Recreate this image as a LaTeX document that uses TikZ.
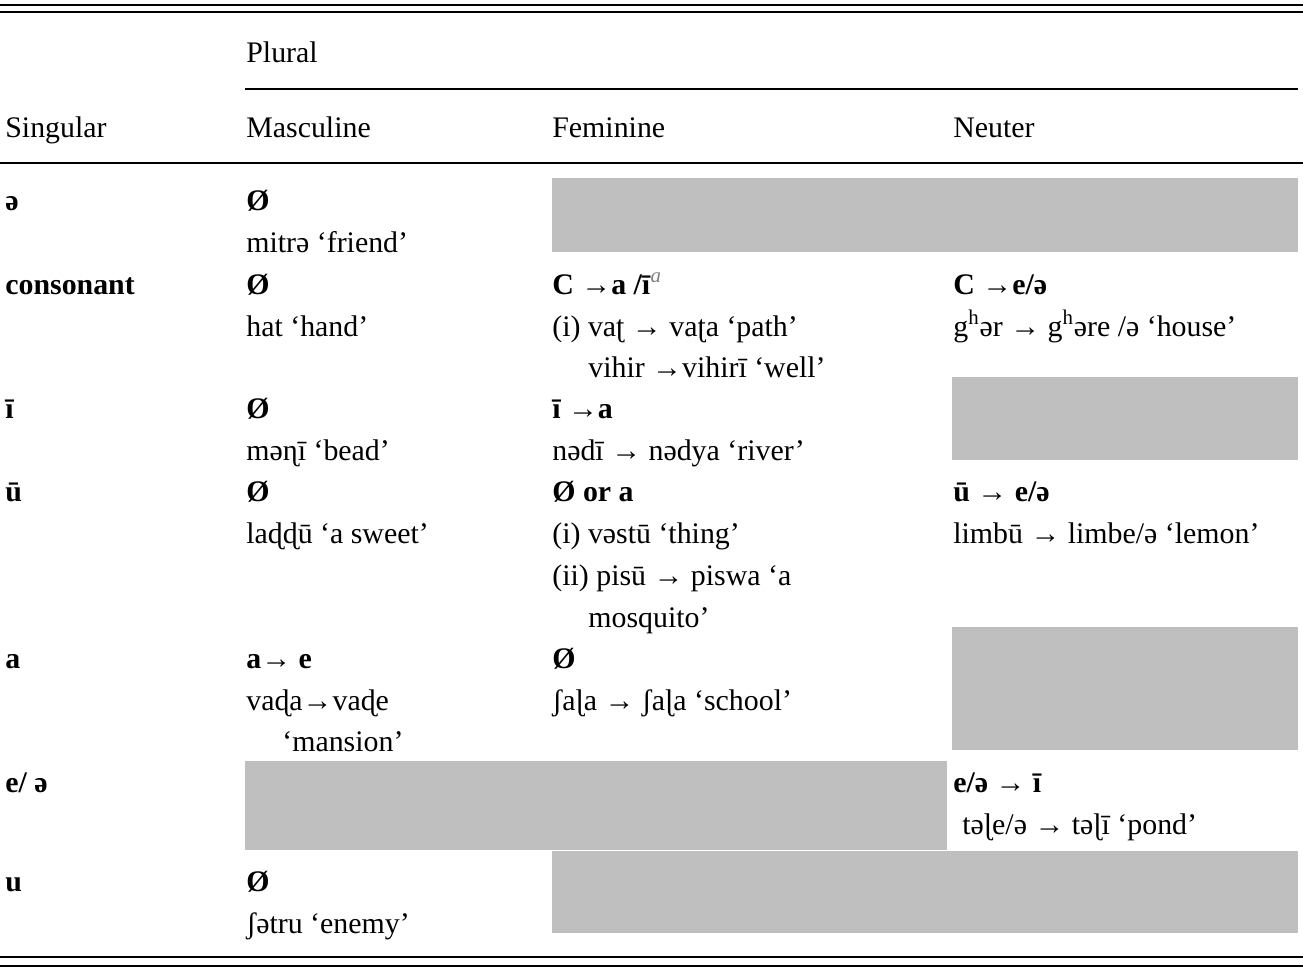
\documentclass[tikz,border=0pt]{standalone}
\usepackage{fontspec}
\setmainfont{Liberation Serif}
\begin{document}
\begin{tikzpicture}[x=0.02cm,y=-0.02cm,
    txt/.style={anchor=base west,inner sep=0pt,font=\fontsize{17}{20}\selectfont},
    rule/.style={line width=1.1pt},
    blank/.style={fill=black!25,draw=none}]
\useasboundingbox (0,0) rectangle (1303,975);
% rules
\draw[rule] (0,5) -- (1303,5) (0,12) -- (1303,12);
\draw[rule] (245,89) -- (1298,89);
\draw[rule] (0,163) -- (1303,163);
\draw[rule] (0,957) -- (1303,957) (0,966) -- (1303,966);
% gray cells
\fill[blank] (552,178) rectangle (1298,252);
\fill[blank] (952,377) rectangle (1298,460);
\fill[blank] (952,627) rectangle (1298,750);
\fill[blank] (245,761) rectangle (947,850);
\fill[blank] (552,851) rectangle (1298,933);
% header
\node[txt] (plural) at (246,62) {Plural};
\node[txt] (hsg) at (5,137) {Singular};
\node[txt] (hm) at (246,137) {Masculine};
\node[txt] (hf) at (552,137) {Feminine};
\node[txt] (hn) at (953,137) {Neuter};
% row 1
\node[txt] (a0) at (5,210) {\textbf{ə}};
\node[txt] (a1) at (246,210) {\textbf{Ø}};
\node[txt] (a1b) at (246,252) {mitrə ‘friend’};
% row 2
\node[txt] (b0) at (5,294) {\textbf{consonant}};
\node[txt] (b1) at (246,294) {\textbf{Ø}};
\node[txt] (b1b) at (246,336) {hat ‘hand’};
\node[txt] (b2) at (552,294) {\textbf{C →a /ī}\textsuperscript{\textcolor{black!50}{\itshape a}}};
\node[txt] (b2b) at (552,336) {(i) vaʈ → vaʈa ‘path’};
\node[txt] (b2c) at (588,377) {vihir →vihirī ‘well’};
\node[txt] (b3) at (953,294) {\textbf{C →e/ə}};
\node[txt] (b3b) at (953,336) {g\textsuperscript{h}ər → g\textsuperscript{h}əre /ə ‘house’};
% row 3
\node[txt] (c0) at (5,418) {\textbf{ī}};
\node[txt] (c1) at (246,418) {\textbf{Ø}};
\node[txt] (c1b) at (246,460) {məɳī ‘bead’};
\node[txt] (c2) at (552,418) {\textbf{ī →a}};
\node[txt] (c2b) at (552,460) {nədī → nədya ‘river’};
% row 4
\node[txt] (d0) at (5,501) {\textbf{ū}};
\node[txt] (d1) at (246,501) {\textbf{Ø}};
\node[txt] (d1b) at (246,543) {laɖɖū ‘a sweet’};
\node[txt] (d2) at (552,501) {\textbf{Ø or a}};
\node[txt] (d2b) at (552,543) {(i) vəstū ‘thing’};
\node[txt] (d2c) at (552,585) {(ii) pisū → piswa ‘a};
\node[txt] (d2d) at (588,627) {mosquito’};
\node[txt] (d3) at (953,501) {\textbf{ū → e/ə}};
\node[txt] (d3b) at (953,543) {limbū → limbe/ə ‘lemon’};
% row 5
\node[txt] (e0) at (5,668) {\textbf{a}};
\node[txt] (e1) at (246,668) {\textbf{a→ e}};
\node[txt] (e1b) at (246,710) {vaɖa→vaɖe};
\node[txt] (e1c) at (282,751) {‘mansion’};
\node[txt] (e2) at (552,668) {\textbf{Ø}};
\node[txt] (e2b) at (552,710) {ʃaɭa → ʃaɭa ‘school’};
% row 6
\node[txt] (f0) at (5,792) {\textbf{e/ ə}};
\node[txt] (f3) at (953,792) {\textbf{e/ə → ī}};
\node[txt] (f3b) at (962,834) {təɭe/ə → təɭī ‘pond’};
% row 7
\node[txt] (g0) at (5,891) {\textbf{u}};
\node[txt] (g1) at (246,891) {\textbf{Ø}};
\node[txt] (g1b) at (246,933) {ʃətru ‘enemy’};
\end{tikzpicture}
\end{document}
